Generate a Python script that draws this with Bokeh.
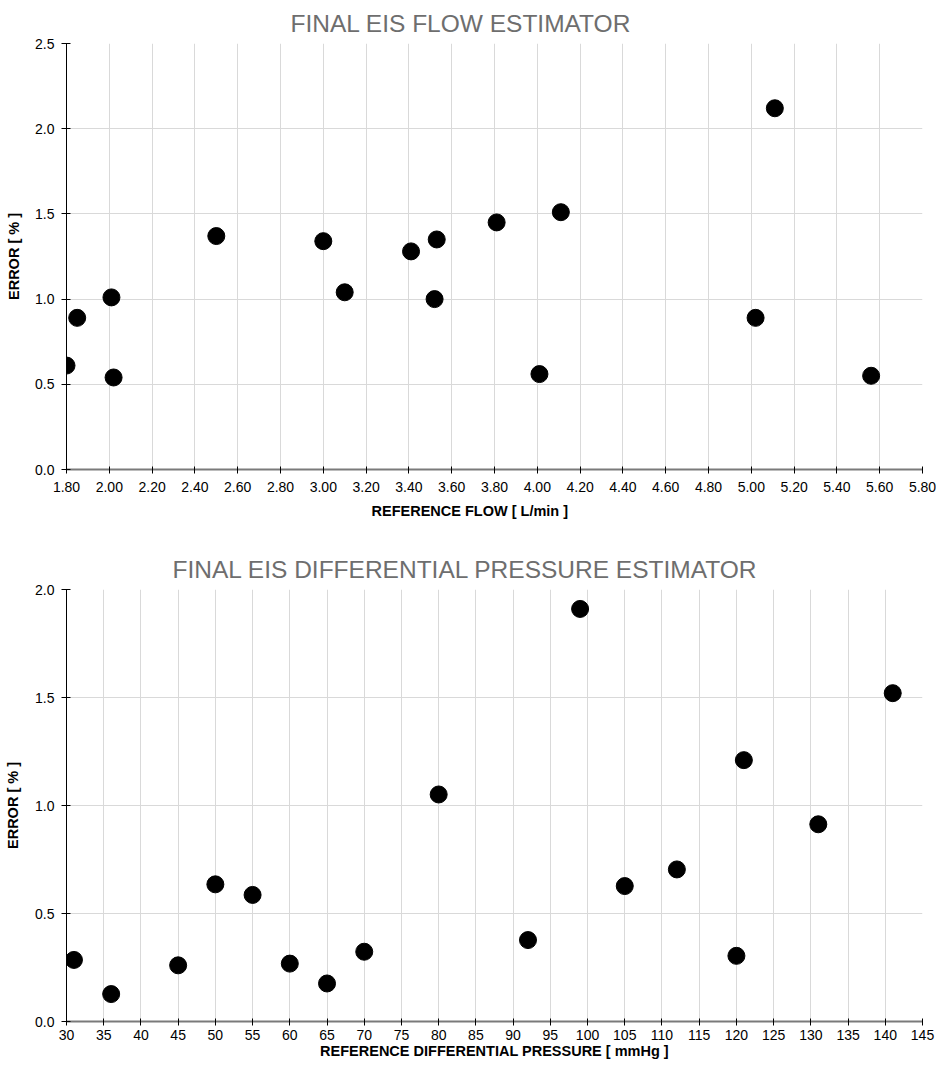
from bokeh.plotting import figure
from bokeh.layouts import column
from bokeh.models import Range1d, FixedTicker, NumeralTickFormatter, Title
from bokeh.embed import file_html
from bokeh.resources import INLINE

# ---------------- data ----------------
flow = [1.80, 1.85, 2.01, 2.02, 2.50, 3.00, 3.10, 3.41, 3.53, 3.52, 3.81, 4.01, 4.11, 5.02, 5.11, 5.56]
flow_error = [0.61, 0.89, 1.01, 0.54, 1.37, 1.34, 1.04, 1.28, 1.35, 1.00, 1.45, 0.56, 1.51, 0.89, 2.12, 0.55]
flow_ticks = [1.8, 2.0, 2.2, 2.4, 2.6, 2.8, 3.0, 3.2, 3.4, 3.6, 3.8, 4.0, 4.2, 4.4, 4.6, 4.8, 5.0, 5.2, 5.4, 5.6, 5.8]
flow_error_ticks = [0.0, 0.5, 1.0, 1.5, 2.0, 2.5]

pressure = [31, 36, 45, 50, 55, 60, 65, 70, 80, 92, 99, 105, 112, 120, 121, 131, 141]
pressure_error = [0.285, 0.127, 0.26, 0.635, 0.586, 0.268, 0.176, 0.323, 1.051, 0.377, 1.91, 0.627, 0.704, 0.304, 1.21, 0.913, 1.52]
pressure_ticks = [30, 35, 40, 45, 50, 55, 60, 65, 70, 75, 80, 85, 90, 95, 100, 105, 110, 115, 120, 125, 130, 135, 140, 145]
pressure_error_ticks = [0.0, 0.5, 1.0, 1.5, 2.0]

titles = ["FINAL EIS FLOW ESTIMATOR", "FINAL EIS DIFFERENTIAL PRESSURE ESTIMATOR"]
x_labels = ["REFERENCE FLOW [ L/min ]", "REFERENCE DIFFERENTIAL PRESSURE [ mmHg ]"]
y_label = "ERROR [ % ]"

FONT = "Liberation Sans"


def make(x, y, xr, yr, xt, yt, xfmt, title, xlabel, borders, w, h, title_offset,
         x_std, xlab_std, ylab_std, xlab_offset=None):
    left, right, top, bottom = borders
    p = figure(width=w, height=h,
               x_range=Range1d(*xr), y_range=Range1d(*yr),
               output_backend="svg", toolbar_location=None,
               min_border_left=left, min_border_right=right,
               min_border_top=top, min_border_bottom=bottom,
               background_fill_color="white", border_fill_color="white")
    p.outline_line_color = None

    p.title.text = title
    p.title.align = "left"
    p.title.offset = title_offset
    p.title.standoff = 14
    p.title.text_font = FONT
    p.title.text_font_size = "24.5px"
    p.title.text_font_style = "normal"
    p.title.text_color = "#6e6e6e"

    p.xaxis.ticker = FixedTicker(ticks=xt)
    p.yaxis.ticker = FixedTicker(ticks=yt)
    p.xaxis.formatter = NumeralTickFormatter(format=xfmt)
    p.yaxis.formatter = NumeralTickFormatter(format="0.0")
    p.xaxis.minor_tick_line_color = None
    p.yaxis.minor_tick_line_color = None

    p.yaxis.axis_label = y_label
    if xlab_offset is None:
        p.xaxis.axis_label = xlabel
    else:
        p.add_layout(Title(text=xlabel, align="left", offset=xlab_offset, standoff=14,
                           vertical_align="middle",
                           text_font=FONT, text_font_size="14.5px",
                           text_font_style="bold", text_color="black"), "below")

    for ax in (p.xaxis, p.yaxis):
        ax.major_label_text_font = FONT
        ax.major_label_text_font_size = "14px"
        ax.major_label_text_color = "black"
        ax.major_tick_line_color = "black"
        ax.axis_label_text_font = FONT
        ax.axis_label_text_font_size = "14.5px"
        ax.axis_label_text_font_style = "bold"
        ax.axis_label_text_color = "black"

    p.xaxis.axis_line_color = "#7a7a7a"
    p.xaxis.axis_line_width = 2
    p.xaxis.major_tick_in = 3
    p.xaxis.major_tick_out = 4
    p.xaxis.major_label_standoff = x_std
    p.xaxis.axis_label_standoff = xlab_std

    p.yaxis.axis_line_color = "black"
    p.yaxis.axis_line_width = 1
    p.yaxis.major_tick_in = 4
    p.yaxis.major_tick_out = 5
    p.yaxis.major_label_standoff = 7
    p.yaxis.axis_label_standoff = ylab_std

    p.xgrid.grid_line_color = "#d9d9d9"
    p.ygrid.grid_line_color = "#d9d9d9"
    p.xgrid.grid_line_width = 1
    p.ygrid.grid_line_width = 1

    p.scatter(x=x, y=y, marker="circle", size=17, fill_color="black", line_color="black")
    return p


p1 = make(flow, flow_error, (1.8, 5.8), (0, 2.5), flow_ticks, flow_error_ticks, "0.00",
          titles[0], x_labels[0], (60, 14, 37, 63), 936, 532, 224,
          8, 5, 10, xlab_offset=305)

p2 = make(pressure, pressure_error, (30, 145), (0, 2.0), pressure_ticks, pressure_error_ticks, "0",
          titles[1], x_labels[1], (66, 12, 57, 49), 936, 538, 106,
          4, 0, 11)

layout = column(p1, p2, spacing=0)

with open("out.html", "w") as f:
    f.write(file_html(layout, INLINE))
